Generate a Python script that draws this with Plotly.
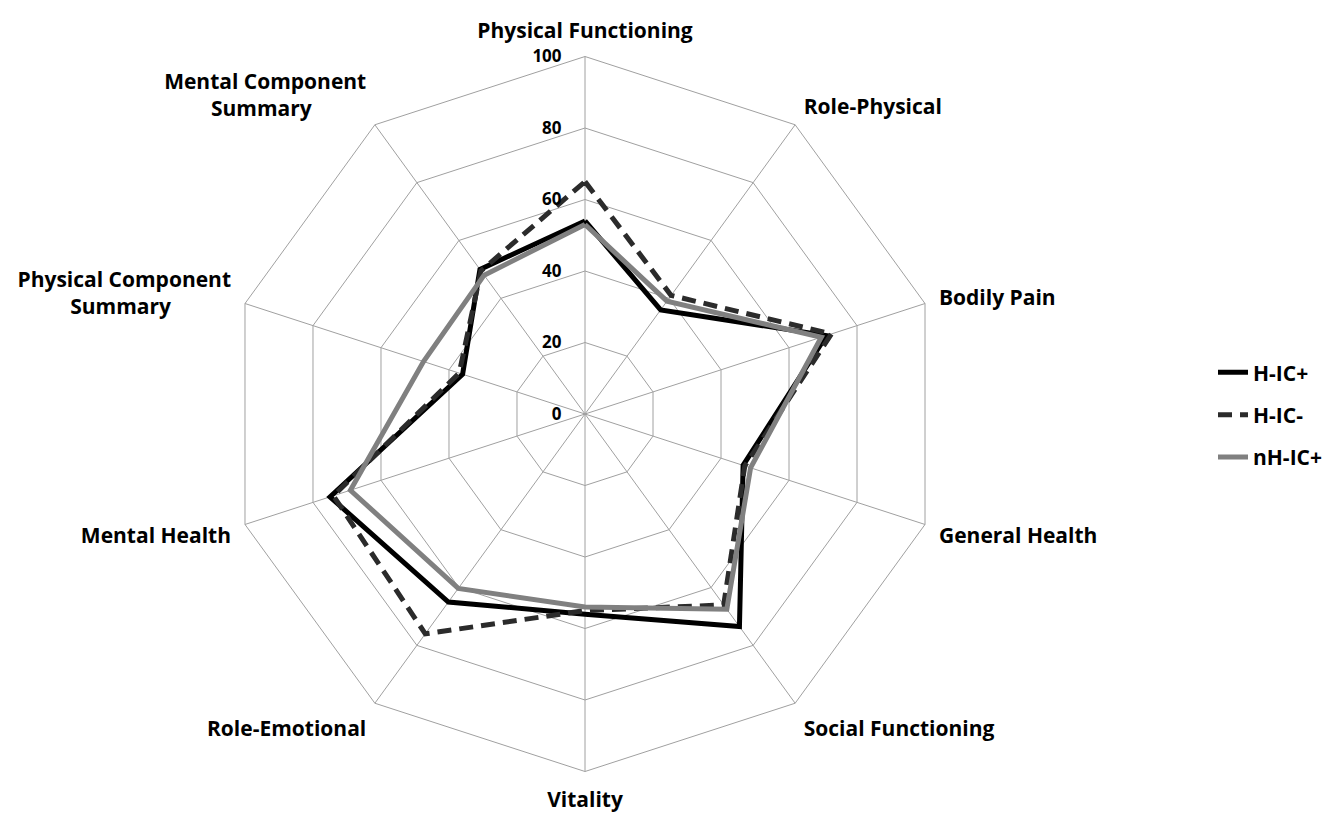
import plotly.graph_objects as go

categories = [
    "Physical Functioning",
    "Role-Physical",
    "Bodily Pain",
    "General Health",
    "Social Functioning",
    "Vitality",
    "Role-Emotional",
    "Mental Health",
    "Physical Component Summary",
    "Mental Component Summary",
]

h_ic_plus = [54, 36, 71, 46.5, 73.5, 56, 65, 75, 36, 50]
h_ic_minus = [65, 41, 72.5, 47, 66, 55, 76, 74, 37, 49.5]
nh_ic_plus = [53, 39, 69.5, 48.7, 67.5, 54, 60.3, 69, 47.5, 48]

radial_ticks = [0, 20, 40, 60, 80, 100]


def display_label(name):
    # two-line labels, second line roughly centred under the first
    if name.endswith(" Summary"):
        first = name[: -len(" Summary")]
        pad = "\u00a0" * (11 if first.startswith("Physical") else 10)
        return first + "<br>Summary" + pad
    return name


series = [
    ("H-IC+", h_ic_plus, dict(color="#000000", width=5, dash="solid")),
    ("H-IC-", h_ic_minus, dict(color="#2b2b2b", width=5, dash="14px,8px")),
    ("nH-IC+", nh_ic_plus, dict(color="#808080", width=5, dash="solid")),
]

fig = go.Figure()
for i, (name, vals, line) in enumerate(series):
    fig.add_trace(go.Scatterpolar(
        r=vals + vals[:1],
        theta=categories + categories[:1],
        mode="lines",
        name=name,
        line=line,
        legendgroup=f"g{i}",
        hoverinfo="skip",
    ))

# page body has an 8px margin, so figure coords = screen coords - 8
W, H = 1326, 810
cx, cy, R = 577, 406, 357.5

fig.update_layout(
    width=W, height=H,
    margin=dict(l=0, r=0, t=0, b=0),
    paper_bgcolor="white",
    plot_bgcolor="white",
    font=dict(family="Open Sans", color="#000000"),
    polar=dict(
        domain=dict(x=[(cx - R) / W, (cx + R) / W],
                    y=[(H - cy - R) / H, (H - cy + R) / H]),
        gridshape="linear",
        bgcolor="white",
        angularaxis=dict(
            type="category",
            categoryarray=categories,
            tickvals=categories,
            ticktext=[display_label(c) for c in categories],
            rotation=90,
            direction="clockwise",
            showline=True,
            linecolor="#a0a0a0",
            linewidth=1,
            gridcolor="#a0a0a0",
            gridwidth=1,
            ticks="outside",
            ticklen=10,
            tickcolor="rgba(0,0,0,0)",
            tickfont=dict(family="Open Sans", size=21, color="#000000", weight="bold"),
        ),
        radialaxis=dict(
            range=[0, 100],
            tickvals=radial_ticks,
            ticktext=[str(v) for v in radial_ticks],
            angle=90,
            tickangle=90,
            side="counterclockwise",
            showline=False,
            gridcolor="#a0a0a0",
            gridwidth=1,
            ticks="outside",
            ticklen=17,
            tickcolor="rgba(0,0,0,0)",
            tickfont=dict(family="Open Sans", size=17, color="#000000", weight="bold"),
        ),
    ),
    showlegend=True,
    legend=dict(
        x=1205 / W, xanchor="left",
        y=(H - 406.7) / H, yanchor="middle",
        font=dict(family="Open Sans", size=21, color="#000000", weight="bold"),
        tracegroupgap=12,
        bgcolor="rgba(0,0,0,0)",
    ),
)

fig.write_html("out.html")
